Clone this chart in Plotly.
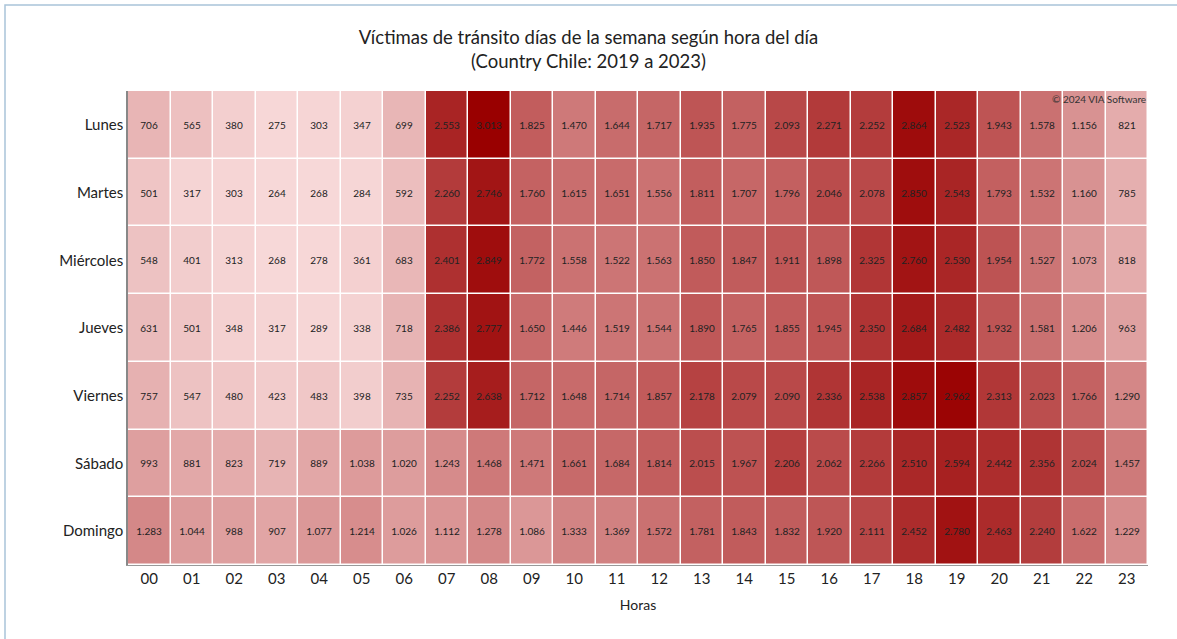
import plotly.graph_objects as go

dias = ["Lunes", "Martes", "Miércoles", "Jueves", "Viernes", "Sábado", "Domingo"]
horas = [f"{h:02d}" for h in range(24)]

lunes = [706, 565, 380, 275, 303, 347, 699, 2553, 3013, 1825, 1470, 1644, 1717, 1935, 1775, 2093, 2271, 2252, 2864, 2523, 1943, 1578, 1156, 821]
martes = [501, 317, 303, 264, 268, 284, 592, 2260, 2746, 1760, 1615, 1651, 1556, 1811, 1707, 1796, 2046, 2078, 2850, 2543, 1793, 1532, 1160, 785]
miercoles = [548, 401, 313, 268, 278, 361, 683, 2401, 2849, 1772, 1558, 1522, 1563, 1850, 1847, 1911, 1898, 2325, 2760, 2530, 1954, 1527, 1073, 818]
jueves = [631, 501, 348, 317, 289, 338, 718, 2386, 2777, 1650, 1446, 1519, 1544, 1890, 1765, 1855, 1945, 2350, 2684, 2482, 1932, 1581, 1206, 963]
viernes = [757, 547, 480, 423, 483, 398, 735, 2252, 2638, 1712, 1648, 1714, 1857, 2178, 2079, 2090, 2336, 2538, 2857, 2962, 2313, 2023, 1766, 1290]
sabado = [993, 881, 823, 719, 889, 1038, 1020, 1243, 1468, 1471, 1661, 1684, 1814, 2015, 1967, 2206, 2062, 2266, 2510, 2594, 2442, 2356, 2024, 1457]
domingo = [1283, 1044, 988, 907, 1077, 1214, 1026, 1112, 1278, 1086, 1333, 1369, 1572, 1781, 1843, 1832, 1920, 2111, 2452, 2780, 2463, 2240, 1622, 1229]

z = [lunes, martes, miercoles, jueves, viernes, sabado, domingo]

FONT = "Lato"

fig = go.Figure(go.Heatmap(
    z=z, x=horas, y=dias,
    colorscale=[[0, "rgb(247,216,216)"], [1, "rgb(153,0,0)"]],
    showscale=False,
    xgap=1.5, ygap=1.5,
    texttemplate="%{z:,}",
    textfont=dict(family=FONT, size=10, color="#222"),
    hoverongaps=False,
))

W, H = 1177, 639
L, R, T, B = 128, 29, 91, 74
PW, PH = W - L - R, H - T - B

fig.update_layout(
    width=W, height=H,
    separators=",.",
    paper_bgcolor="white", plot_bgcolor="white",
    margin=dict(l=L, r=R, t=T, b=B),
    font=dict(family=FONT, color="#222"),
    title=dict(
        text="Víctimas de tránsito días de la semana según hora del día<br>(Country Chile: 2019 a 2023)",
        x=0.5, xanchor="center", y=1 - 44 / H, yanchor="top",
        font=dict(size=18.5, color="#222", family=FONT),
    ),
    xaxis=dict(
        type="category", showline=True, linecolor="#999", linewidth=1,
        ticks="", tickfont=dict(size=15, color="#222"),
        title=dict(text="Horas", font=dict(size=14, color="#222"), standoff=14),
        showgrid=False, zeroline=False,
    ),
    yaxis=dict(
        type="category", autorange="reversed", showline=True, linecolor="#888", linewidth=1.5,
        ticks="", tickfont=dict(size=15, color="#222"),
        showgrid=False, zeroline=False,
    ),
    annotations=[dict(
        text="© 2024 VIA Software", xref="paper", yref="paper", x=1.0, y=1.0,
        xanchor="right", yanchor="top", showarrow=False,
        font=dict(size=10, color="#333", family=FONT),
    )],
    shapes=[dict(
        type="rect", xref="paper", yref="paper",
        x0=(5 - L) / PW, x1=(1300 - L) / PW,
        y0=1 - (700 - T) / PH, y1=1 + (T - 5) / PH,
        line=dict(color="#a9c4d9", width=1.5), fillcolor="rgba(0,0,0,0)", layer="below",
    )],
)

fig.write_html("out.html", config={"displayModeBar": False},
               post_script="document.body.style.margin='0';")
